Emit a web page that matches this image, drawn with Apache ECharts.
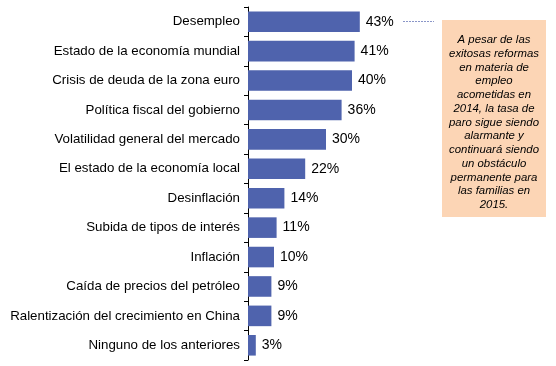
<!DOCTYPE html>
<html>
<head>
<meta charset="utf-8">
<script src="https://cdn.jsdelivr.net/npm/echarts@6/dist/echarts.min.js"></script>
<style>html,body{margin:0;padding:0;background:#fff}#c{width:556px;height:366px}</style>
</head>
<body>
<div id="c"></div>
<script>
const categories = [
  "Desempleo",
  "Estado de la economía mundial",
  "Crisis de deuda de la zona euro",
  "Política fiscal del gobierno",
  "Volatilidad general del mercado",
  "El estado de la economía local",
  "Desinflación",
  "Subida de tipos de interés",
  "Inflación",
  "Caída de precios del petróleo",
  "Ralentización del crecimiento en China",
  "Ninguno de los anteriores"
];
const values = [43, 41, 40, 36, 30, 22, 14, 11, 10, 9, 9, 3];
const noteLines = [
  "A pesar de las",
  "exitosas reformas",
  "en materia de",
  "empleo",
  "acometidas en",
  "2014, la tasa de",
  "paro sigue siendo",
  "alarmante y",
  "continuará siendo",
  "un obstáculo",
  "permanente para",
  "las familias en",
  "2015."
];

const chart = echarts.init(document.getElementById('c'));
chart.setOption({
  animation: false,
  grid: { left: 248, top: 7, height: 353, width: 130 },
  xAxis: { type: 'value', min: 0, max: 50, show: false },
  yAxis: {
    type: 'category',
    data: categories,
    inverse: true,
    axisLine: { lineStyle: { color: '#000', width: 1 } },
    axisTick: { show: true, inside: false, length: 4, lineStyle: { color: '#000' } },
    axisLabel: { color: '#000', fontSize: 13.3, fontFamily: 'Liberation Sans, Arial, sans-serif', margin: 8 }
  },
  series: [{
    type: 'bar',
    data: values,
    barCategoryGap: '30%',
    itemStyle: { color: '#4F63AD' },
    label: {
      show: true, position: 'right', distance: 6,
      formatter: '{c}%', color: '#000', fontSize: 14,
      fontFamily: 'Liberation Sans, Arial, sans-serif'
    }
  }],
  graphic: [
    { type: 'line', shape: { x1: 403, y1: 21.5, x2: 434, y2: 21.5 },
      style: { stroke: '#8A96C8', lineWidth: 1, lineDash: [2, 1] } },
    { type: 'rect', shape: { x: 442, y: 20, width: 104, height: 197 },
      style: { fill: '#FCD5B5' } },
    { type: 'text', x: 494, y: 122.5,
      style: { text: noteLines.join('\n'), fill: '#000', fontSize: 11.4, fontStyle: 'italic',
        fontFamily: 'Liberation Sans, Arial, sans-serif', lineHeight: 13.75,
        align: 'center', verticalAlign: 'middle' } }
  ]
});
</script>
</body>
</html>
